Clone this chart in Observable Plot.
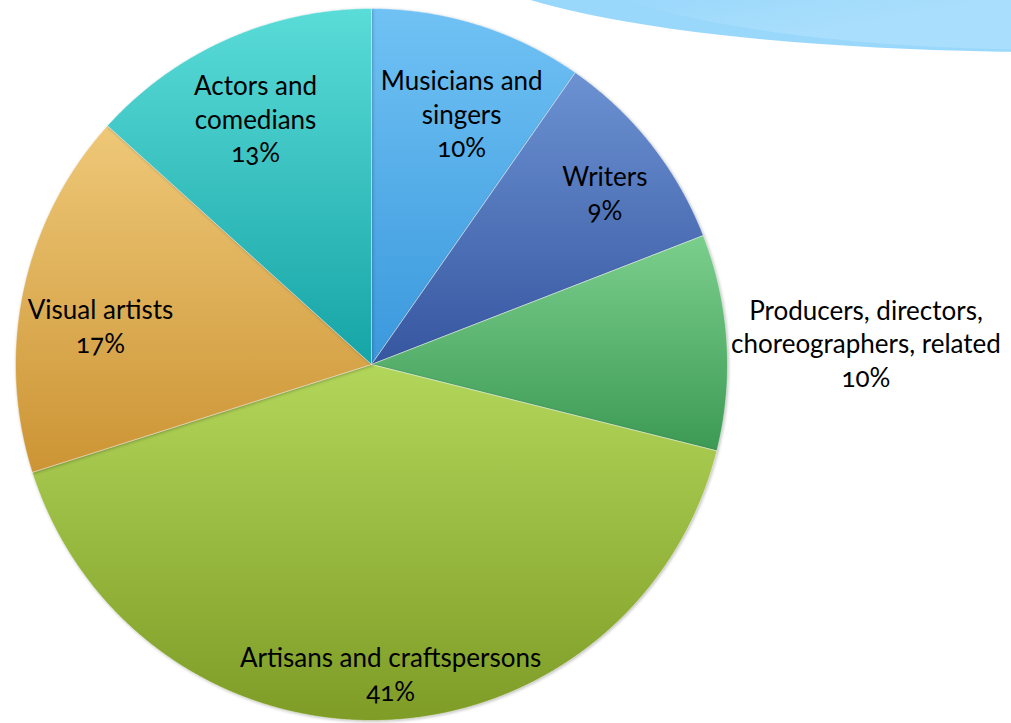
<!DOCTYPE html>
<html>
<head>
<meta charset="utf-8">
<script src="https://cdn.jsdelivr.net/npm/d3@7"></script>
<script src="https://cdn.jsdelivr.net/npm/@observablehq/plot@0.6"></script>
<style>
  html, body { margin: 0; padding: 0; background: #fff; overflow: hidden; }
  #wrap { position: relative; width: 1011px; height: 723px; overflow: hidden; }
  .swoosh { position: absolute; border-radius: 50%; pointer-events: none; }
  #sw1 { left: 450px; top: -156px; width: 1200px; height: 208px; background: #9ad8fb; }
  #sw2 { left: 560px; top: -150px; width: 1000px; height: 200px; background: linear-gradient(170deg, #8fd3fb 30%, #a9defc 60%); }
  #chart { position: absolute; left: 0; top: 0; }
</style>
</head>
<body>
<div id="wrap">
  <div id="chart"></div>
  <div class="swoosh" id="sw1"></div>
  <div class="swoosh" id="sw2"></div>
</div>
<script>
// ---- data ----
const categories = [
  "Musicians and\nsingers",
  "Writers",
  "Producers, directors,\nchoreographers, related",
  "Artisans and craftspersons",
  "Visual artists",
  "Actors and\ncomedians"
];
const shares = [9.7, 9.4, 9.8, 41.2, 16.6, 13.3];

// ---- styles / layout ----
const colorTop    = ["#70c2f4", "#6c92d2", "#7bcf8c", "#b2d65a", "#eec878", "#5adcd8"];
const colorBottom = ["#3a98dc", "#3656a0", "#3c9a54", "#7e9c26", "#cc9434", "#16a4a6"];
const labelRadius = [0.742, 0.81, 1.39, 0.878, 0.768, 0.758];
const labelNudgeDeg = [2.5, 2.2, 1.4, -1.7, -4.6, -1.5];
const W = 1011, H = 723, CX = 371, CY = 364, R = 356;

const arcs = d3.pie().sort(null).value(d => d)(shares);

const slices = arcs.map((a, i) => {
  const pts = [{x: 0, y: 0}];
  const n = Math.max(8, Math.ceil((a.endAngle - a.startAngle) / (Math.PI / 720)));
  for (let k = 0; k <= n; k++) {
    const t = a.startAngle + (a.endAngle - a.startAngle) * k / n;
    pts.push({x: Math.sin(t), y: Math.cos(t)});
  }
  pts.push({x: 0, y: 0});
  return pts;
});

const labels = arcs.map((a, i) => {
  const mid = (a.startAngle + a.endAngle) / 2 + labelNudgeDeg[i] * Math.PI / 180;
  return {
    x: labelRadius[i] * Math.sin(mid),
    y: labelRadius[i] * Math.cos(mid),
    text: categories[i] + "\n" + Math.round(shares[i]) + "%"
  };
});

const marks = slices.map((pts, i) =>
  Plot.line(pts, {x: "x", y: "y", fill: `url(#grad${i})`, stroke: "#ffffff", strokeOpacity: 0.45, strokeWidth: 1, curve: "linear"})
);
marks.push(Plot.text(labels, {
  x: "x", y: "y", text: "text", dy: -3,
  fontSize: 26, lineHeight: 1.29, fill: "#000", textAnchor: "middle", lineAnchor: "middle"
}));

const svg = Plot.plot({
  width: W, height: H,
  margin: 0,
  x: {domain: [-CX / R, (W - CX) / R], axis: null},
  y: {domain: [-(H - CY) / R, CY / R], axis: null},
  style: {background: "transparent", fontFamily: "Lato, 'Open Sans', sans-serif", fontVariantNumeric: "oldstyle-nums"},
  marks
});

const defs = d3.select(svg).insert("defs", ":first-child");
shares.forEach((_, i) => {
  const g = defs.append("linearGradient").attr("id", `grad${i}`).attr("x1", 0).attr("y1", 0).attr("x2", 0).attr("y2", 1);
  g.append("stop").attr("offset", "0%").attr("stop-color", colorTop[i]);
  g.append("stop").attr("offset", "100%").attr("stop-color", colorBottom[i]);
});
d3.select(svg).selectAll("g[aria-label='line']").style("filter", "drop-shadow(1px 1.5px 1.5px rgba(0,0,0,0.25))");

document.getElementById("chart").append(svg);
</script>
</body>
</html>
